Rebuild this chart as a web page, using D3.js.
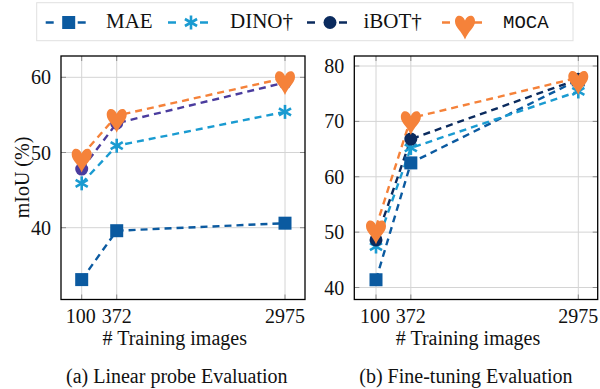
<!DOCTYPE html>
<html>
<head>
<meta charset="utf-8">
<script src="https://cdn.jsdelivr.net/npm/d3@7"></script>
<style>
  body { margin: 0; background: #fff; }
  .grid line { stroke: #d4d4d4; stroke-width: 1; }
  .tick-mark { stroke: #8a8a8a; stroke-width: 1; }
</style>
</head>
<body>
<svg id="chart" width="600" height="389"></svg>
<script>
// Data
let trainImages = [100, 372, 2975];
let methods = ["MAE", "DINO†", "iBOT†", "MOCA"];
let linearMAE = [33.1, 39.6, 40.6];
let linearDINO = [45.9, 50.9, 55.4];
let linearIBOT = [47.8, 53.9, 59.3];
let linearMOCA = [49.6, 54.9, 59.9];
let fineMAE = [41.4, 62.5, 77.5];
let fineDINO = [47.4, 65.2, 75.4];
let fineIBOT = [48.6, 66.8, 77.6];
let fineMOCA = [50.9, 70.6, 77.9];
let linearTicks = [40, 50, 60];
let fineTicks = [40, 50, 60, 70, 80];

let svg = d3.select("#chart");
let serif = "Liberation Serif";

//Colours of each method (iBOT drawn purple in the linear probe panel)
let colorMAE = "#0b5aa0", colorDINO = "#1a9bd1", colorIBOT = "#0b2b5e", colorIBOTlin = "#4a3c9e", colorMOCA = "#f5823a";

//Marker drawing function, returns a group at (cx, cy)
function drawMarker(g, type, cx, cy, color){
  let m = g.append("g").attr("transform", "translate(" + cx + "," + cy + ")");
  if(type == "square"){
    m.append("rect").attr("x", -6.5).attr("y", -6.5).attr("width", 13).attr("height", 13).attr("fill", color);
  } else if(type == "circle"){
    m.append("circle").attr("r", 6.5).attr("fill", color);
  } else if(type == "star"){
    for(let a of [90, 30, 150]){
      let r = a * Math.PI / 180;
      m.append("line")
       .attr("x1", 7 * Math.cos(r)).attr("y1", 7 * Math.sin(r))
       .attr("x2", -7 * Math.cos(r)).attr("y2", -7 * Math.sin(r))
       .attr("stroke", color).attr("stroke-width", 2.6);
    }
  } else if(type == "heart"){
    m.append("path")
     .attr("d", "M0,-2 C-2,-8 -10,-9 -10,-1 C-10,5 -3,9 0,17 C3,9 10,5 10,-1 C10,-9 2,-8 0,-2 Z")
     .attr("fill", color);
  }
  return m;
}

//Helper to add a serif text
function addText(g, x, y, size, anchor, str){
  return g.append("text").attr("x", x).attr("y", y).attr("font-size", size)
          .attr("font-family", serif).attr("text-anchor", anchor).attr("fill", "#111").text(str);
}

//Draw one panel
function drawPanel(opt){
  let x = d3.scalePow().exponent(0.63).domain([100, 2975]).range(opt.xRange);
  let y = d3.scaleLinear().domain(opt.yDomain).range(opt.yRange);
  let g = svg.append("g");
  let left = opt.frame[0], right = opt.frame[1], top = opt.frame[2], bottom = opt.frame[3];

  //grid lines
  let grid = g.append("g").attr("class", "grid");
  grid.selectAll(".vx").data(trainImages).enter().append("line")
      .attr("x1", d => x(d)).attr("x2", d => x(d)).attr("y1", top).attr("y2", bottom);
  grid.selectAll(".hy").data(opt.ticks).enter().append("line")
      .attr("x1", left).attr("x2", right).attr("y1", d => y(d)).attr("y2", d => y(d));

  //small tick marks on all four sides
  let tk = g.append("g");
  opt.ticks.forEach(function(t){
    tk.append("line").attr("class", "tick-mark").attr("x1", left).attr("x2", left + 5).attr("y1", y(t)).attr("y2", y(t));
    tk.append("line").attr("class", "tick-mark").attr("x1", right - 5).attr("x2", right).attr("y1", y(t)).attr("y2", y(t));
  });
  trainImages.forEach(function(t){
    tk.append("line").attr("class", "tick-mark").attr("x1", x(t)).attr("x2", x(t)).attr("y1", top).attr("y2", top + 5);
    tk.append("line").attr("class", "tick-mark").attr("x1", x(t)).attr("x2", x(t)).attr("y1", bottom - 5).attr("y2", bottom);
  });

  //lines and markers
  let line = d3.line().x((d, i) => x(trainImages[i])).y(d => y(d));
  opt.series.forEach(function(s){
    g.append("path").attr("d", line(s.values)).attr("fill", "none")
     .attr("stroke", s.color).attr("stroke-width", 2.4).attr("stroke-dasharray", "7,5");
  });
  opt.series.forEach(function(s){
    s.values.forEach(function(v, i){ drawMarker(g, s.marker, x(trainImages[i]), y(v), s.color); });
  });

  //frame
  g.append("rect").attr("x", left).attr("y", top).attr("width", right - left).attr("height", bottom - top)
   .attr("fill", "none").attr("stroke", "#000").attr("stroke-width", 1.3);

  //tick labels
  opt.ticks.forEach(function(t){ addText(g, left - 10, y(t) + 7, 20, "end", t); });
  addText(g, x(100) - 1, 323, 20, "middle", "100");
  addText(g, x(372), 323, 20, "middle", "372");
  addText(g, x(2975), 323, 20, "middle", "2975");

  addText(g, left + 41.5, 345, 20, "start", "# Training images");
  addText(g, left + 5, 383, 20, "start", opt.caption);
}

drawPanel({
  frame: [61, 305, 56, 299.5],
  xRange: [81.7, 285],
  yDomain: [40, 60], yRange: [227.7, 77.3],
  ticks: linearTicks,
  caption: "(a) Linear probe Evaluation",
  series: [
    {values: linearMAE, color: colorMAE, marker: "square"},
    {values: linearDINO, color: colorDINO, marker: "star"},
    {values: linearIBOT, color: colorIBOTlin, marker: "circle"},
    {values: linearMOCA, color: colorMOCA, marker: "heart"}
  ]
});

drawPanel({
  frame: [354.3, 597.7, 56, 299.5],
  xRange: [376, 578.3],
  yDomain: [40, 80], yRange: [287.5, 66],
  ticks: fineTicks,
  caption: "(b) Fine-tuning Evaluation",
  series: [
    {values: fineMAE, color: colorMAE, marker: "square"},
    {values: fineDINO, color: colorDINO, marker: "star"},
    {values: fineIBOT, color: colorIBOT, marker: "circle"},
    {values: fineMOCA, color: colorMOCA, marker: "heart"}
  ]
});

//y axis title
svg.append("text").attr("transform", "translate(29,177.5) rotate(-90)")
   .attr("font-family", serif).attr("text-anchor", "middle").attr("font-size", 20).attr("fill", "#111").text("mIoU (%)");

//legend
let legend = svg.append("g");
legend.append("rect").attr("x", 36.7).attr("y", 2.7).attr("width", 536.3).attr("height", 38)
      .attr("fill", "#fff").attr("stroke", "#e0e0e0").attr("stroke-width", 1);
let legendItems = [
  {name: methods[0], color: colorMAE, marker: "square", mx: 68.7, tx: 106, mono: false},
  {name: methods[1], color: colorDINO, marker: "star", mx: 191, tx: 230, mono: false},
  {name: methods[2], color: colorIBOT, marker: "circle", mx: 330, tx: 363.5, mono: false},
  {name: methods[3], color: colorMOCA, marker: "heart", mx: 465, tx: 503, mono: true}
];
legendItems.forEach(function(it){
  legend.append("line").attr("x1", it.mx - 23).attr("x2", it.mx + 17).attr("y1", 22.5).attr("y2", 22.5)
        .attr("stroke", it.color).attr("stroke-width", 2.6).attr("stroke-dasharray", "8,24,8");
  drawMarker(legend, it.marker, it.mx, 22.5, it.color);
  let t = addText(legend, it.tx, 27.5, 21, "start", it.name);
  if(it.mono) t.attr("font-family", "Liberation Mono").attr("font-size", 19).attr("font-weight", 300);
});
</script>
</body>
</html>
